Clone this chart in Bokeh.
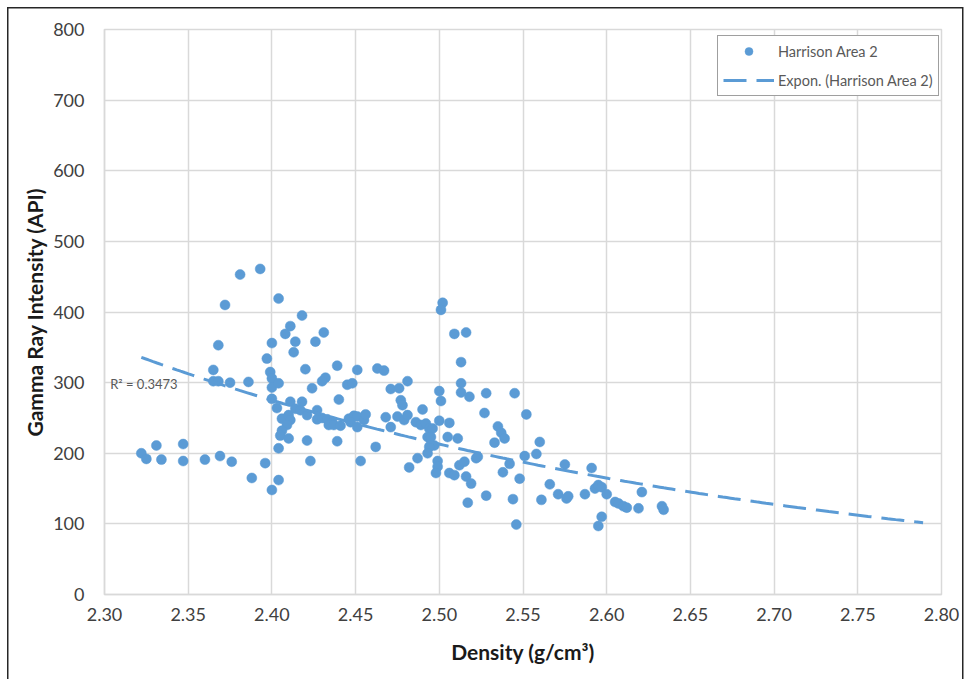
import numpy as np
from bokeh.plotting import figure
from bokeh.models import (Legend, LegendItem, Label, FixedTicker,
                          PrintfTickFormatter, Range1d)
from bokeh.embed import file_html
from bokeh.resources import INLINE

# Bulk density (g/cm3) and gamma ray intensity (API) samples
density = [
    2.381, 2.393, 2.404, 2.372, 2.368, 2.411, 2.408, 2.414, 2.413, 2.418,
    2.400, 2.397, 2.399, 2.400, 2.400, 2.404, 2.400, 2.403, 2.411, 2.406,
    2.410, 2.411, 2.409, 2.406, 2.405, 2.410, 2.404, 2.365, 2.365, 2.368,
    2.375, 2.386, 2.322, 2.325, 2.331, 2.334, 2.347, 2.347, 2.360, 2.369,
    2.376, 2.396, 2.388, 2.404, 2.400, 2.502, 2.501, 2.431, 2.426, 2.509,
    2.516, 2.513, 2.420, 2.439, 2.451, 2.463, 2.467, 2.481, 2.432, 2.430,
    2.445, 2.448, 2.424, 2.471, 2.476, 2.500, 2.513, 2.513, 2.518, 2.440,
    2.477, 2.478, 2.501, 2.418, 2.414, 2.417, 2.421, 2.427, 2.427, 2.430,
    2.433, 2.436, 2.434, 2.437, 2.441, 2.446, 2.449, 2.451, 2.447, 2.451,
    2.455, 2.456, 2.468, 2.471, 2.475, 2.479, 2.481, 2.490, 2.486, 2.489,
    2.492, 2.494, 2.496, 2.493, 2.495, 2.497, 2.494, 2.493, 2.500, 2.506,
    2.505, 2.511, 2.439, 2.421, 2.423, 2.453, 2.462, 2.482, 2.487, 2.499,
    2.499, 2.498, 2.506, 2.509, 2.512, 2.515, 2.516, 2.517, 2.528, 2.545,
    2.527, 2.552, 2.535, 2.537, 2.539, 2.533, 2.560, 2.558, 2.551, 2.542,
    2.538, 2.548, 2.522, 2.523, 2.519, 2.528, 2.544, 2.546, 2.575, 2.566,
    2.571, 2.576, 2.577, 2.561, 2.587, 2.591, 2.593, 2.595, 2.597, 2.600,
    2.605, 2.607, 2.610, 2.612, 2.619, 2.621, 2.597, 2.595, 2.633, 2.634,
]
gamma_ray = [
    453, 461, 419, 410, 353, 380, 369, 358, 343, 395,
    356, 334, 315, 306, 293, 299, 277, 264, 273, 249,
    254, 247, 240, 232, 225, 221, 207, 318, 302, 302,
    300, 301, 200, 192, 211, 191, 189, 213, 191, 196,
    188, 186, 165, 162, 148, 413, 403, 371, 358, 369,
    371, 329, 319, 324, 318, 320, 317, 302, 307, 302,
    297, 299, 292, 291, 292, 288, 299, 286, 280, 276,
    275, 268, 274, 273, 263, 261, 254, 261, 248, 250,
    248, 244, 240, 240, 239, 249, 253, 252, 244, 237,
    247, 255, 251, 237, 252, 247, 254, 262, 244, 240,
    242, 235, 235, 223, 223, 211, 209, 200, 246, 243,
    223, 221, 217, 218, 189, 189, 209, 180, 193, 189,
    181, 172, 172, 169, 183, 188, 167, 130, 285, 285,
    257, 255, 238, 229, 221, 215, 216, 199, 196, 185,
    173, 164, 193, 195, 157, 140, 135, 99, 184, 156,
    142, 136, 139, 134, 142, 179, 150, 155, 152, 142,
    131, 129, 125, 123, 122, 145, 110, 97, 125, 120,
]

x_ticks = [2.30, 2.35, 2.40, 2.45, 2.50, 2.55, 2.60, 2.65, 2.70, 2.75, 2.80]
y_ticks = [0, 100, 200, 300, 400, 500, 600, 700, 800]

series_name = "Harrison Area 2"
trend_name = "Expon. (Harrison Area 2)"
r2_text = "R\u00b2 = 0.3473"
trend_forward = 0.155   # forecast distance past the last sample

# Exponential trendline y = a * exp(b * x), least squares on ln(y)
b, ln_a = np.polyfit(density, np.log(gamma_ray), 1)
trend_x = np.linspace(min(density), max(density) + trend_forward, 200)
trend_y = np.exp(ln_a + b * trend_x)

BLUE = "#5b9bd5"
GRID = "#d9d9d9"
FONT = "Lato"

p = figure(width=964, height=679,
           x_range=Range1d(x_ticks[0], x_ticks[-1]),
           y_range=Range1d(y_ticks[0], y_ticks[-1]),
           output_backend="svg", toolbar_location=None,
           min_border_left=104, min_border_right=23,
           min_border_top=29, min_border_bottom=85)

p.border_fill_color = None
p.background_fill_color = "white"
p.outline_line_color = GRID
p.outline_line_width = 1.5

# chart-area frame on the left, top and right
p.styles = {
    "background-color": "white",
    "background-image": ("linear-gradient(#262626,#262626), "
                         "linear-gradient(#262626,#262626), "
                         "linear-gradient(#262626,#262626)"),
    "background-size": "956px 1.5px, 1.5px 700px, 1.5px 700px",
    "background-position": "7px 7px, 7px 7px, 962px 7px",
    "background-repeat": "no-repeat",
}

for ax in (p.xaxis[0], p.yaxis[0]):
    ax.major_tick_line_color = None
    ax.minor_tick_line_color = None
    ax.major_tick_out = 0
    ax.major_tick_in = 0
    ax.axis_line_color = GRID
    ax.axis_line_width = 1.5
    ax.major_label_text_font = FONT
    ax.major_label_text_font_size = "18px"
    ax.major_label_text_color = "#404040"
    ax.axis_label_text_font = FONT
    ax.axis_label_text_font_size = "21px"
    ax.axis_label_text_font_style = "bold"
    ax.axis_label_text_color = "#1a1a1a"

p.xaxis.ticker = FixedTicker(ticks=x_ticks)
p.xaxis.formatter = PrintfTickFormatter(format="%.2f")
p.xaxis.major_label_standoff = 13
p.xaxis.axis_label = "Density (g/cm\u00b3)"
p.xaxis.axis_label_standoff = 15

p.yaxis.ticker = FixedTicker(ticks=y_ticks)
p.yaxis.formatter = PrintfTickFormatter(format="%d")
p.yaxis.major_label_standoff = 20
p.yaxis.axis_label = "Gamma Ray Intensity (API)"
p.yaxis.axis_label_standoff = 3

p.xgrid.ticker = FixedTicker(ticks=x_ticks)
p.ygrid.ticker = FixedTicker(ticks=y_ticks)
for g in (p.xgrid[0], p.ygrid[0]):
    g.grid_line_color = GRID
    g.grid_line_width = 1.5

pts = p.scatter(density, gamma_ray, size=10, fill_color=BLUE,
                line_color=BLUE, line_width=0.5)
trend = p.line(trend_x, trend_y, line_color=BLUE, line_width=3,
               line_dash="23 10")

p.add_layout(Label(x=2.3034, y=298.6, text=r2_text, text_font=FONT,
                   text_font_size="13px", text_color="#595959",
                   text_baseline="middle"))

legend = Legend(items=[LegendItem(label=series_name, renderers=[pts]),
                       LegendItem(label=trend_name, renderers=[trend])],
                location=(613, 498), margin=0, padding=5, spacing=9,
                glyph_width=51, glyph_height=20, label_height=20,
                label_standoff=4,
                label_text_font=FONT, label_text_font_size="14.5px",
                label_text_color="#595959",
                border_line_color="#404040", border_line_width=1,
                background_fill_color="white", background_fill_alpha=1)
p.add_layout(legend)

open("out.html", "w").write(file_html(p, INLINE))
